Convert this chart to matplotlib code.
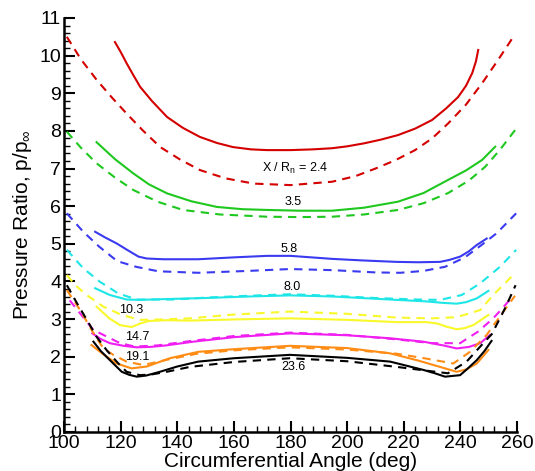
import matplotlib
matplotlib.use("Agg")
import matplotlib.pyplot as plt
import numpy as np

plt.rcParams['font.family'] = ['Liberation Sans', 'DejaVu Sans']
plt.rcParams['mathtext.fontset'] = 'custom'
plt.rcParams['mathtext.rm'] = 'Liberation Sans'
plt.rcParams['mathtext.it'] = 'Liberation Sans:italic'

red_x = [118, 120, 122.1, 124.5, 126.9, 131, 136.4, 142, 148, 154, 159.7, 166, 171.7, 180, 188, 194.7, 200, 206, 212, 218, 224, 230, 235, 239.2, 242, 244.2, 245.5, 246.3]
red_y = [10.36, 10.1, 9.8, 9.48, 9.17, 8.8, 8.37, 8.08, 7.84, 7.68, 7.57, 7.51, 7.49, 7.49, 7.51, 7.54, 7.59, 7.67, 7.77, 7.89, 8.06, 8.29, 8.6, 8.9, 9.2, 9.54, 9.85, 10.15]
red_dx = [101, 106, 111.6, 117, 122, 128, 134, 141, 148, 157, 167, 180, 194.7, 203, 210, 217, 224, 230, 235.7, 242, 247.7, 253, 258.7]
red_dy = [10.5, 9.9, 9.35, 8.88, 8.47, 8.0, 7.57, 7.24, 6.96, 6.74, 6.6, 6.56, 6.65, 6.8, 7.0, 7.22, 7.49, 7.8, 8.2, 8.7, 9.27, 9.85, 10.5]

green_x = [111.5, 118, 124.5, 130, 136.4, 145, 154, 163, 171.7, 183, 194.7, 206, 218, 227, 235.7, 242, 247.7, 252.3]
green_y = [7.7, 7.25, 6.87, 6.58, 6.34, 6.13, 5.98, 5.92, 5.9, 5.88, 5.88, 5.96, 6.12, 6.35, 6.7, 6.95, 7.23, 7.58]
green_dx = [101, 106, 111.5, 118, 124.5, 133, 142, 155, 171.7, 183, 194.7, 206, 218, 227, 235.7, 243, 248.8, 254, 259.4]
green_dy = [7.98, 7.55, 7.14, 6.76, 6.43, 6.12, 5.9, 5.78, 5.72, 5.71, 5.72, 5.78, 5.9, 6.08, 6.35, 6.68, 7.05, 7.5, 8.03]

blue_x = [111, 114.5, 118.6, 122.5, 126.3, 129.2, 135, 147.4, 160, 171.7, 180, 194.7, 205, 217.5, 225, 232.8, 236, 239.9, 243, 245.8, 249.3]
blue_y = [5.32, 5.17, 5.01, 4.83, 4.66, 4.61, 4.59, 4.59, 4.64, 4.68, 4.68, 4.6, 4.56, 4.52, 4.51, 4.52, 4.57, 4.66, 4.8, 4.97, 5.14]
blue_dx = [101, 106.8, 112.5, 118.8, 125.4, 133.3, 147.4, 165, 179.8, 195, 210, 218.7, 227, 234.6, 241.6, 247.5, 252.8, 259.7]
blue_dy = [5.81, 5.32, 4.92, 4.54, 4.39, 4.27, 4.23, 4.28, 4.33, 4.3, 4.24, 4.23, 4.28, 4.39, 4.64, 4.97, 5.28, 5.81]

cyan_x = [111, 116.2, 122.1, 126.8, 135, 150, 165, 180, 195, 215.2, 228, 234, 238.7, 242, 245.8, 249.9]
cyan_y = [3.82, 3.64, 3.52, 3.51, 3.53, 3.56, 3.6, 3.63, 3.6, 3.52, 3.47, 3.43, 3.41, 3.45, 3.55, 3.75]
cyan_dx = [101, 106.8, 112.7, 119.2, 125.7, 138.6, 150, 165, 179.8, 195, 210, 225, 232.8, 240.5, 247, 254, 259.7]
cyan_dy = [4.84, 4.35, 3.99, 3.68, 3.52, 3.52, 3.57, 3.62, 3.66, 3.62, 3.56, 3.52, 3.51, 3.64, 3.95, 4.39, 4.84]

yellow_x = [111.5, 116, 119.8, 123.9, 126.8, 130, 136, 144.5, 160, 179.8, 200, 217.5, 228, 232, 235, 238.7, 241.5, 244.6, 249.9]
yellow_y = [3.33, 3.02, 2.84, 2.79, 2.88, 2.95, 2.97, 2.96, 2.99, 3.02, 2.98, 2.92, 2.92, 2.88, 2.8, 2.73, 2.76, 2.84, 3.11]
yellow_dx = [101, 104, 108, 113.9, 120.4, 126.8, 135, 144.5, 160, 179.8, 200, 217.5, 230, 238.7, 247, 251.6, 258.1]
yellow_dy = [4.17, 3.9, 3.64, 3.33, 3.11, 2.98, 2.99, 3.02, 3.12, 3.2, 3.14, 3.04, 3.02, 3.05, 3.24, 3.64, 4.13]

magenta_x = [110, 113, 116.2, 121, 125.7, 130.4, 136, 145.7, 160, 179.8, 200, 215.2, 226.9, 234, 238.7, 243, 247, 250.5]
magenta_y = [2.62, 2.47, 2.36, 2.29, 2.25, 2.26, 2.3, 2.4, 2.52, 2.62, 2.57, 2.49, 2.4, 2.3, 2.22, 2.26, 2.36, 2.58]
magenta_dx = [102, 105.7, 110.4, 113.9, 119.8, 125, 133, 145, 160, 179.8, 200, 217.5, 230, 239.9, 246.3, 251.6, 255, 258.7]
magenta_dy = [3.5, 3.15, 2.71, 2.58, 2.36, 2.27, 2.3, 2.42, 2.55, 2.64, 2.58, 2.46, 2.36, 2.36, 2.67, 3.02, 3.3, 3.62]

orange_x = [109.7, 114, 118.6, 123.9, 129.2, 137.4, 147.4, 160, 179.8, 200, 215.2, 225, 232.8, 238.7, 242, 245.8, 249.9]
orange_y = [2.31, 2.06, 1.82, 1.69, 1.74, 1.96, 2.13, 2.2, 2.29, 2.23, 2.09, 1.9, 1.73, 1.6, 1.66, 1.82, 2.18]
orange_dx = [101, 105.7, 110, 113.9, 117.4, 122.1, 128, 137, 147, 160, 179.8, 200, 217.5, 228, 237.5, 243.4, 249.3, 255.2, 259.3]
orange_dy = [3.77, 3.24, 2.68, 2.22, 2.05, 1.87, 1.78, 1.93, 2.08, 2.17, 2.25, 2.19, 2.08, 1.95, 1.82, 2.13, 2.58, 3.2, 3.62]

black_x = [110.4, 113, 116.2, 118.5, 120.4, 123, 125.7, 129, 133.9, 140, 147.4, 160, 179.8, 200, 215.2, 226.9, 231, 234.6, 239.9, 242.5, 245.8, 248.5, 251]
black_y = [2.4, 2.15, 1.91, 1.74, 1.6, 1.52, 1.47, 1.5, 1.6, 1.74, 1.87, 1.96, 2.05, 1.97, 1.87, 1.65, 1.56, 1.47, 1.51, 1.68, 1.91, 2.15, 2.42]
black_dx = [101, 104.6, 108.7, 111.5, 115, 118.6, 122.1, 126.8, 131, 136.3, 144.5, 160, 179.8, 200, 217.5, 228, 235.6, 242.2, 248.1, 251.1, 255.8, 259.5]
black_dy = [3.9, 3.42, 2.9, 2.53, 2.18, 1.87, 1.6, 1.51, 1.53, 1.6, 1.73, 1.86, 1.96, 1.88, 1.73, 1.63, 1.56, 1.87, 2.36, 2.6, 3.29, 3.9]

# station labels X/Rn
lab_text = ['X / R$_\\mathregular{n}$ = 2.4', '3.5', '5.8', '8.0', '10.3', '14.7', '19.1', '23.6']
lab_x = [181.6, 180.9, 179.5, 180.6, 123.9, 125.7, 125.7, 181.2]
lab_y = [7.01, 6.11, 4.86, 3.86, 3.24, 2.53, 2.0, 1.73]

curves = [
    (red_x, red_y, red_dx, red_dy, '#d40000'),
    (green_x, green_y, green_dx, green_dy, '#1ec81e'),
    (blue_x, blue_y, blue_dx, blue_dy, '#3a3af0'),
    (cyan_x, cyan_y, cyan_dx, cyan_dy, '#1ee6e6'),
    (yellow_x, yellow_y, yellow_dx, yellow_dy, '#f8f82a'),
    (magenta_x, magenta_y, magenta_dx, magenta_dy, '#f01ef0'),
    (orange_x, orange_y, orange_dx, orange_dy, '#ff8c14'),
    (black_x, black_y, black_dx, black_dy, '#000000'),
]

fig = plt.figure(figsize=(5.35, 4.71), dpi=100)
ax = fig.add_axes([64 / 535, 39 / 471, 453 / 535, 414 / 471])

for sx, sy, dx, dy, c in curves:
    ax.plot(dx, dy, color=c, lw=1.5, linestyle=(0, (4, 3)))
    ax.plot(sx, sy, color=c, lw=1.5, linestyle='-')

for t, x, y in zip(lab_text, lab_x, lab_y):
    ax.text(x, y, t, fontsize=9, ha='center', va='center')

ax.set_xlim(100, 260)
ax.set_ylim(0, 11)
ax.set_xticks(np.arange(100, 261, 20))
ax.set_xticks(np.arange(100, 261, 4), minor=True)
ax.set_yticks(np.arange(0, 12, 1))
ax.set_yticks(np.arange(0, 11.01, 0.2), minor=True)
ax.spines['top'].set_visible(False)
ax.spines['right'].set_visible(False)
ax.spines['left'].set_linewidth(1.8)
ax.spines['bottom'].set_linewidth(1.8)
ax.tick_params(which='major', direction='in', length=8, width=1.5, labelsize=14, pad=2)
ax.tick_params(which='minor', direction='in', length=4, width=1.0)
ax.set_xlabel('Circumferential Angle (deg)', fontsize=15, labelpad=0)
ax.set_ylabel('Pressure Ratio, p/p$_\\infty$', fontsize=15, labelpad=4)

fig.savefig("out.png", dpi=100)
